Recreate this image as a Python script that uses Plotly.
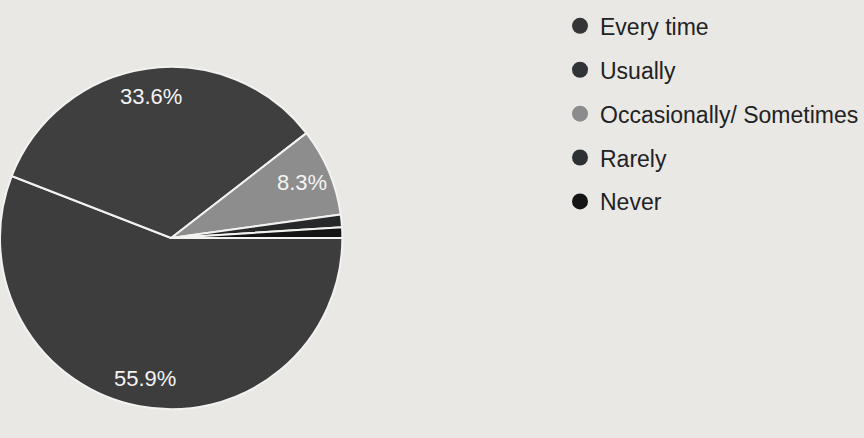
import math
import plotly.graph_objects as go

categories = ["Every time", "Usually", "Occasionally/ Sometimes", "Rarely", "Never"]
percentages = [55.9, 33.6, 8.3, 1.2, 1.0]
shown_labels = ["55.9%", "33.6%", "8.3%", "", ""]
slice_colors = ["#3d3d3d", "#3f3f3f", "#8d8d8d", "#262829", "#141414"]
legend_colors = ["#353535", "#303436", "#8c8c8c", "#2e3134", "#151515"]

W, H = 864, 438
pie_x = [0.0, 0.399]
pie_y = [0.063, 0.850]
start_deg = 90          # plotly rotation: first slice starts at 3 o'clock
label_frac = 0.83       # labels sit at 83% of the radius

fig = go.Figure()
fig.add_trace(go.Pie(
    labels=categories,
    values=percentages,
    textinfo="none",
    sort=False,
    direction="clockwise",
    rotation=start_deg,
    marker=dict(colors=slice_colors, line=dict(color="#f2f2f0", width=2)),
    showlegend=False,
    domain=dict(x=pie_x, y=pie_y),
    hoverinfo="label+percent",
))

# percentage labels placed along each slice's mid-angle (derived from the data)
cx = (pie_x[0] + pie_x[1]) / 2
cy = (pie_y[0] + pie_y[1]) / 2
radius_px = min((pie_x[1] - pie_x[0]) * W, (pie_y[1] - pie_y[0]) * H) / 2
total = sum(percentages)
cum = 0.0
for v, lab in zip(percentages, shown_labels):
    mid = (cum + v / 2) / total * 2 * math.pi   # clockwise from 3 o'clock
    cum += v
    if not lab:
        continue
    r = radius_px * label_frac
    fig.add_annotation(
        x=cx + r * math.cos(mid) / W,
        y=cy - r * math.sin(mid) / H,
        xref="paper", yref="paper", text=lab, showarrow=False,
        xanchor="center", yanchor="middle",
        font=dict(color="#f4f4f4", size=22, family="Liberation Sans, Arial, sans-serif"),
    )

for i, (name, col) in enumerate(zip(categories, legend_colors)):
    fig.add_trace(go.Scatter(
        x=[None], y=[None], mode="markers", name=name,
        legendgroup=f"g{i}",
        marker=dict(symbol="circle", size=16, color=col),
        hoverinfo="skip",
    ))

fig.update_layout(
    width=W, height=H,
    margin=dict(l=0, r=0, t=0, b=0),
    paper_bgcolor="#e9e8e5",
    plot_bgcolor="rgba(0,0,0,0)",
    xaxis=dict(visible=False),
    yaxis=dict(visible=False),
    legend=dict(
        x=0.653, y=0.99, xanchor="left", yanchor="top",
        bgcolor="rgba(0,0,0,0)",
        font=dict(size=23, color="#222222", family="Liberation Sans, Arial, sans-serif"),
        tracegroupgap=11,
        itemsizing="trace",
    ),
)

fig.write_html("out.html", config={"displayModeBar": False},
               post_script="document.body.style.margin='0';")
